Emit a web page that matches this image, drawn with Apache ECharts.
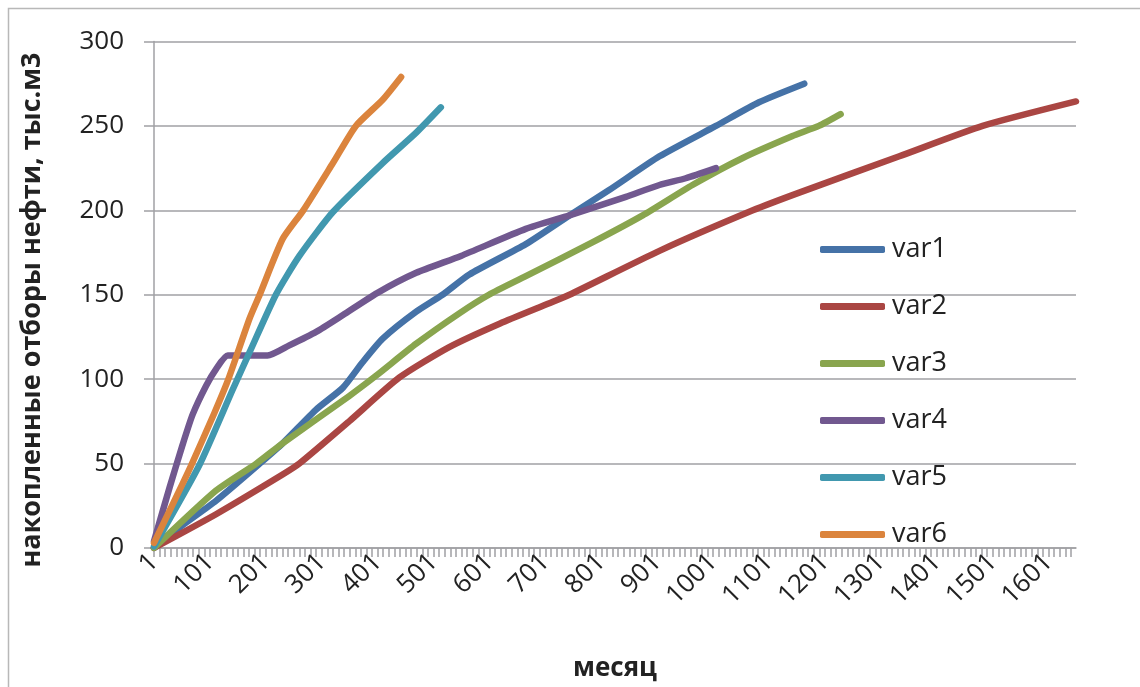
<!DOCTYPE html>
<html>
<head>
<meta charset="utf-8">
<script src="https://cdn.jsdelivr.net/npm/echarts@6/dist/echarts.min.js"></script>
<style>
html,body{margin:0;padding:0;background:#fff;}
#c{width:1140px;height:687px;}
</style>
</head>
<body>
<div id="c"></div>
<script>
// ---- data (month, cumulative oil production, thousand m3) ----
var monthCount = 1650;
var seriesNames = ['var1', 'var2', 'var3', 'var4', 'var5', 'var6'];
var yTicks = [0, 50, 100, 150, 200, 250, 300];
var yTitle = 'накопленные отборы нефти, тыс.м3';
var xTitle = 'месяц';

var var1 = [[1,0],[50,13],[112,28],[190,50],[231,62],[291,82],[339,95],[374,110],[410,124],[470,140],[517,150],[565,162],[666,180],[744,197],[815,212],[905,232],[1006,250],[1083,264],[1164,275]];
var var2 = [[1,0],[112,20],[231,43.5],[261,50],[350,75],[440,101],[529,119],[620,133],[708,145],[744,150],[905,176],[1072,200],[1155,210.5],[1334,232],[1483,250],[1650,264.5]];
var var3 = [[1,0],[112,34],[184,50],[231,62],[350,90],[398,102],[470,121],[547,139],[600,150],[666,161],[785,181],[875,197],[964,215],[1054,231],[1143,244],[1190,250],[1229,257]];
var var4 = [[1,4],[29,36],[52,61],[70,79],[94,96],[112,106],[133,114],[204,114],[243,120],[291,128],[339,138],[400,151],[470,163],[550,173],[666,189],[744,197],[845,208],[905,215],[952,219],[1006,225]];
var var5 = [[1,1],[82,49],[142,94],[172,116],[219,150],[261,173],[321,199],[410,228],[470,246],[514,261]];
var var6 = [[1,3],[52,38],[69,50],[109,80],[134,100],[172,136],[190,150],[231,183],[268,200],[321,228],[362,250],[410,265.5],[443,279]];

var seriesData = [var1, var2, var3, var4, var5, var6];
var colors = ['#4572A7', '#AA4643', '#89A54E', '#71588F', '#4198AF', '#DB843D'];

var categories = [];
for (var m = 1; m <= monthCount; m++) categories.push(String(m));

function toIndex(arr) {
  return arr.map(function (p) { return [p[0] - 1, p[1]]; });
}

var FONT = '"Open Sans", "Noto Sans", sans-serif';

var chart = echarts.init(document.getElementById('c'), null, {renderer: 'canvas'});
chart.setOption({
  animation: false,
  backgroundColor: '#fff',
  color: colors,
  graphic: [{
    type: 'rect', left: 6, top: 6, silent: true,
    shape: {width: 1160, height: 720},
    style: {fill: 'none', stroke: '#b8b8b8', lineWidth: 1.5}
  }, {
    type: 'text', x: 32, y: 310, rotation: Math.PI / 2, silent: true,
    style: {text: yTitle, fontFamily: FONT, fontSize: 27, fontWeight: 'bold', fill: '#222',
      align: 'center', verticalAlign: 'middle'}
  }],
  grid: {left: 154, right: 64, top: 41.5, bottom: 136.5, containLabel: false},
  legend: {
    orient: 'vertical', left: 820, top: 236, padding: 0,
    itemGap: 30, itemWidth: 65, itemHeight: 7, icon: 'roundRect',
    data: seriesNames,
    textStyle: {fontFamily: FONT, fontSize: 27, color: '#222', lineHeight: 27, padding: [0, 0, 0, 2]}
  },
  xAxis: {
    type: 'category', data: categories, boundaryGap: false,
    name: xTitle, nameLocation: 'middle', nameGap: 108,
    nameTextStyle: {fontFamily: FONT, fontSize: 26, fontWeight: 'bold', color: '#222'},
    axisLine: {lineStyle: {color: '#a0a0a4', width: 1.5}},
    axisTick: {show: true, interval: 9, length: 9, lineStyle: {color: '#a0a0a4', width: 1.5}},
    axisLabel: {interval: 99, rotate: 45, margin: 10, fontFamily: FONT, fontSize: 26, color: '#222'},
    splitLine: {show: false}
  },
  yAxis: {
    type: 'value', min: 0, max: 300, interval: 50,
    axisLine: {show: true, lineStyle: {color: '#a0a0a4', width: 1.5}},
    axisTick: {show: true, length: 10, lineStyle: {color: '#a0a0a4', width: 1.5}},
    axisLabel: {margin: 30, fontFamily: FONT, fontSize: 26, color: '#222',
      formatter: function (v) { return yTicks.indexOf(v) >= 0 ? String(v) : ''; }},
    splitLine: {lineStyle: {color: '#a0a0a4', width: 1.5}}
  },
  series: seriesNames.map(function (n, i) {
    return {
      name: n, type: 'line', data: toIndex(seriesData[i]),
      showSymbol: false, smooth: 0.2,
      lineStyle: {width: 6.5, cap: 'round', join: 'round', color: colors[i]},
      itemStyle: {color: colors[i]}
    };
  })
});
</script>
</body>
</html>
